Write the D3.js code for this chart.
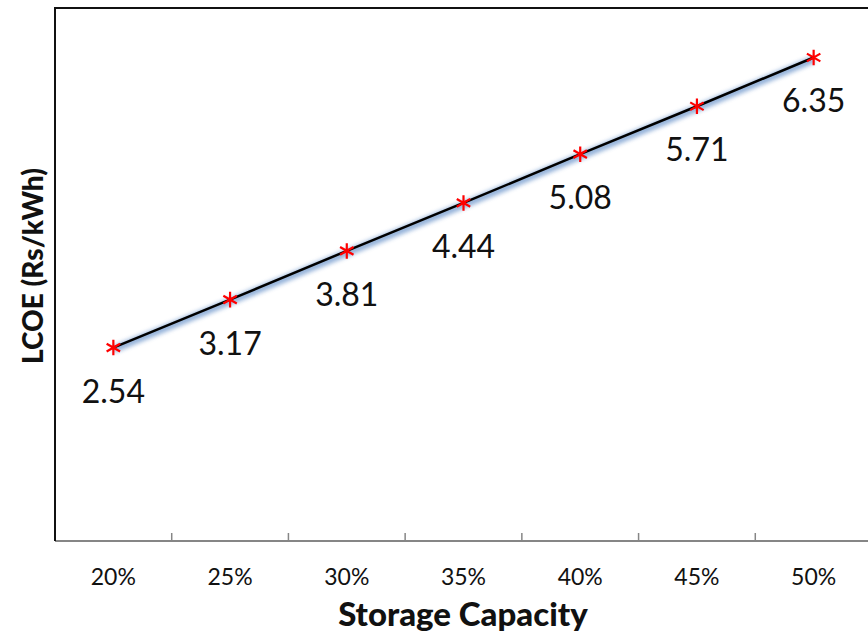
<!DOCTYPE html>
<html>
<head>
<meta charset="utf-8">
<script src="https://cdn.jsdelivr.net/npm/d3@7"></script>
<style>
  body { margin: 0; background: #fff; }
  svg { display: block; font-family: Lato, "Open Sans", sans-serif; }
</style>
</head>
<body>
<div id="chart"></div>
<script>
// Chart data.
const categories = ["20%", "25%", "30%", "35%", "40%", "45%", "50%"];
const lcoe = [2.54, 3.17, 3.81, 4.44, 5.08, 5.71, 6.35];
const yDomain = [0, 7];

const width = 868, height = 636;
const margin = { top: 8, left: 55, bottom: 95 };
const plotRight = 872;   // plot frame runs just past the right edge
const plotBottom = height - margin.bottom;

const svg = d3.select("#chart").append("svg")
  .attr("width", width)
  .attr("height", height);

// Soft blue glow under the line.
const defs = svg.append("defs");
const blur = defs.append("filter").attr("id", "glow")
  .attr("x", "-10%").attr("y", "-50%").attr("width", "120%").attr("height", "200%");
blur.append("feGaussianBlur").attr("stdDeviation", 2.2);

// Scales.
const x = d3.scaleBand()
  .domain(categories)
  .range([margin.left, plotRight])
  .paddingInner(0).paddingOuter(0);

const y = d3.scaleLinear()
  .domain(yDomain)
  .range([plotBottom, margin.top]);

const data = categories.map((c, i) => ({ cat: c, value: lcoe[i] }));
const cx = d => x(d.cat) + x.bandwidth() / 2;

// Top border.
svg.append("line")
  .attr("x1", margin.left).attr("x2", plotRight)
  .attr("y1", margin.top).attr("y2", margin.top)
  .attr("stroke", "#111").attr("stroke-width", 2);

// Bottom axis.
const xAxis = svg.append("g");
xAxis.append("line")
  .attr("x1", margin.left).attr("x2", plotRight)
  .attr("y1", plotBottom).attr("y2", plotBottom)
  .attr("stroke", "#868686").attr("stroke-width", 2);

xAxis.selectAll("line.tick")
  .data(categories.slice(1))
  .enter()
  .append("line")
  .attr("class", "tick")
  .attr("x1", d => x(d)).attr("x2", d => x(d))
  .attr("y1", plotBottom).attr("y2", plotBottom - 8)
  .attr("stroke", "#868686").attr("stroke-width", 1.5);

xAxis.selectAll("text")
  .data(categories)
  .enter()
  .append("text")
  .attr("x", d => x(d) + x.bandwidth() / 2)
  .attr("y", plotBottom + 44)
  .attr("text-anchor", "middle")
  .style("font-size", "23px")
  .style("fill", "#111")
  .text(d => d);

// Left axis.
svg.append("line")
  .attr("x1", margin.left).attr("x2", margin.left)
  .attr("y1", margin.top - 1).attr("y2", plotBottom)
  .attr("stroke", "#111").attr("stroke-width", 2);

// Axis titles.
svg.append("text")
  .attr("x", 463)
  .attr("y", 626)
  .attr("text-anchor", "middle")
  .style("font-size", "33px")
  .style("font-weight", "900")
  .style("fill", "#111")
  .text("Storage Capacity");

svg.append("text")
  .attr("transform", `translate(43, 266) rotate(-90)`)
  .attr("text-anchor", "middle")
  .style("font-size", "28px")
  .style("font-weight", "900")
  .style("fill", "#111")
  .text("LCOE (Rs/kWh)");

// Line with glow.
const line = d3.line().x(cx).y(d => y(d.value));

svg.append("path")
  .datum(data)
  .attr("d", line)
  .attr("transform", "translate(0,2)")
  .attr("fill", "none")
  .attr("stroke", "#7fa3d2")
  .attr("stroke-width", 7)
  .attr("opacity", 0.85)
  .attr("filter", "url(#glow)");

svg.append("path")
  .datum(data)
  .attr("d", line)
  .attr("fill", "none")
  .attr("stroke", "#000")
  .attr("stroke-width", 2.5);

// Asterisk markers.
const star = d3.symbol().type(d3.symbolAsterisk).size(170);
svg.selectAll("path.marker")
  .data(data)
  .enter()
  .append("path")
  .attr("class", "marker")
  .attr("d", star)
  .attr("transform", d => `translate(${cx(d)},${y(d.value)})`)
  .attr("fill", "none")
  .attr("stroke", "#ff0000")
  .attr("stroke-width", 2.2);

// Data labels.
svg.selectAll("text.label")
  .data(data)
  .enter()
  .append("text")
  .attr("class", "label")
  .attr("x", cx)
  .attr("y", d => y(d.value) + 55)
  .attr("text-anchor", "middle")
  .style("font-size", "32px")
  .style("fill", "#111")
  .text(d => d.value.toFixed(2));
</script>
</body>
</html>
